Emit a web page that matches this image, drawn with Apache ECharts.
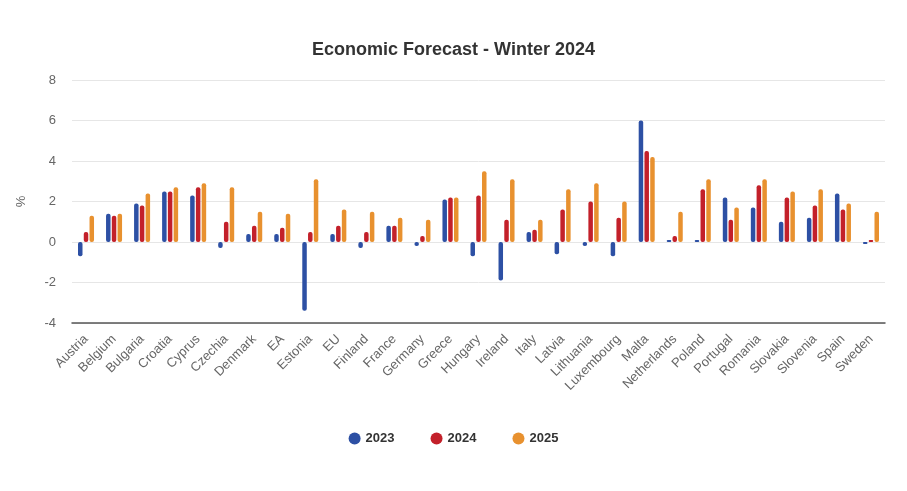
<!DOCTYPE html>
<html><head><meta charset="utf-8">
<script src="https://cdn.jsdelivr.net/npm/echarts@6/dist/echarts.min.js"></script>
<style>html,body{margin:0;padding:0;background:#fff}#c{width:907px;height:491px}</style>
</head><body><div id="c"></div>
<script>
const categories = ["Austria","Belgium","Bulgaria","Croatia","Cyprus","Czechia","Denmark","EA","Estonia","EU","Finland","France","Germany","Greece","Hungary","Ireland","Italy","Latvia","Lithuania","Luxembourg","Malta","Netherlands","Poland","Portugal","Romania","Slovakia","Slovenia","Spain","Sweden"];
const v2023 = [-0.7,1.4,1.9,2.5,2.3,-0.3,0.4,0.4,-3.4,0.4,-0.3,0.8,-0.2,2.1,-0.7,-1.9,0.5,-0.6,-0.2,-0.7,6.0,0.1,0.1,2.2,1.7,1.0,1.2,2.4,-0.1];
const v2024 = [0.5,1.3,1.8,2.5,2.7,1.0,0.8,0.7,0.5,0.8,0.5,0.8,0.3,2.2,2.3,1.1,0.6,1.6,2.0,1.2,4.5,0.3,2.6,1.1,2.8,2.2,1.8,1.6,0.1];
const v2025 = [1.3,1.4,2.4,2.7,2.9,2.7,1.5,1.4,3.1,1.6,1.5,1.2,1.1,2.2,3.5,3.1,1.1,2.6,2.9,2.0,4.2,1.5,3.1,1.7,3.1,2.5,2.6,1.9,1.5];
const yTicks = {min:-4, max:8, interval:2};
const seriesNames = ["2023","2024","2025"];
const colors = ["#2d50a4","#c3202a","#e8912f"];

const chart = echarts.init(document.getElementById('c'), null, {renderer:'canvas'});
const font = "'Liberation Sans', Arial, sans-serif";
const mk = (name, data, color) => ({
  name, type:'bar', data, barWidth:4.5, barGap:'28%',
  itemStyle:{color, borderRadius:2},
});
chart.setOption({
  animation:false,
  title:{text:'Economic Forecast - Winter 2024', left:'center', top:36,
    textStyle:{fontFamily:font, fontSize:18, fontWeight:'bold', color:'#333'}},
  grid:{left:72, right:22, top:80, bottom:168},
  legend:{bottom:41, left:'center', icon:'circle', itemWidth:12, itemHeight:12, itemGap:36,
    textStyle:{fontFamily:font, fontSize:13, fontWeight:'bold', color:'#333'}},
  xAxis:{type:'category', data:categories,
    axisLine:{onZero:false, lineStyle:{color:'#555', width:1.5}},
    axisTick:{show:false},
    axisLabel:{interval:0, rotate:45, fontFamily:font, fontSize:13, color:'#666', margin:14}},
  yAxis:{type:'value', min:yTicks.min, max:yTicks.max, interval:yTicks.interval,
    name:'%', nameLocation:'middle', nameGap:44, nameRotate:90,
    nameTextStyle:{fontFamily:font, fontSize:13, color:'#666'},
    axisLabel:{fontFamily:font, fontSize:13, color:'#666', margin:16},
    splitLine:{lineStyle:{color:'#e6e6e6'}}},
  series:[mk(seriesNames[0], v2023, colors[0]), mk(seriesNames[1], v2024, colors[1]), mk(seriesNames[2], v2025, colors[2])]
});
</script></body></html>
